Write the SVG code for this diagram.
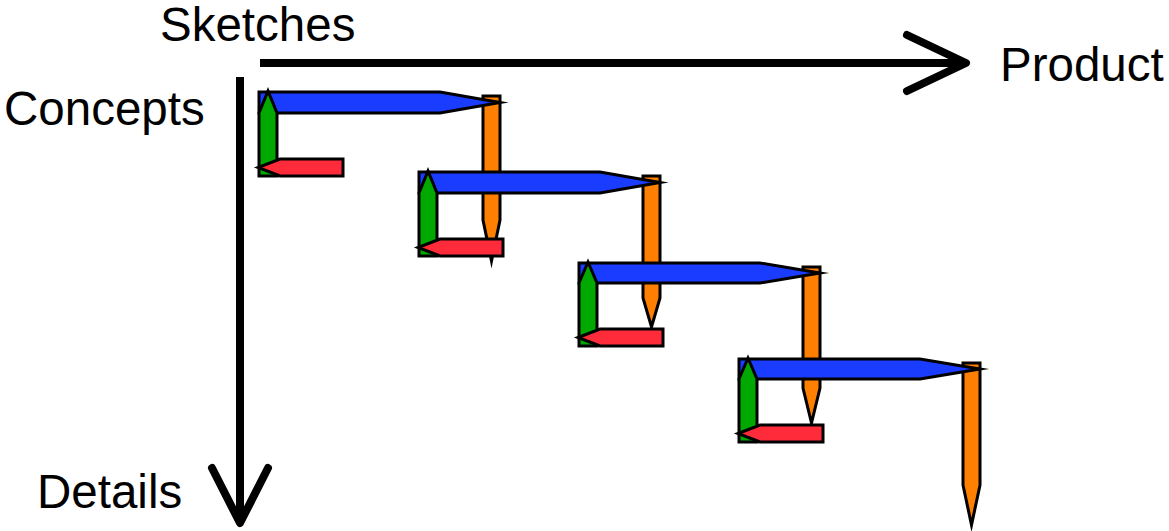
<svg xmlns="http://www.w3.org/2000/svg" width="1169" height="531" viewBox="0 0 1169 531">
<style>
.lbl{font-family:"Liberation Sans",Arial,sans-serif;font-size:47.5px;fill:#000}
.sh{stroke:#000;stroke-width:3;stroke-linejoin:miter;stroke-miterlimit:20}
.blue{fill:#1a3cff}.green{fill:#00a800}.red{fill:#ff2b3b}.orange{fill:#ff8000}
.axis{stroke:#000;stroke-width:8;fill:none;stroke-linecap:round;stroke-linejoin:round}
</style>
<rect width="1169" height="531" fill="#fff"/>
<g id="axes">
<line class="axis" x1="260" y1="63" x2="965" y2="63" style="stroke-linecap:butt"/>
<polyline class="axis" points="907,35 966,63 907,91"/>
<line class="axis" x1="240" y1="77" x2="240" y2="522" style="stroke-linecap:butt"/>
<polyline class="axis" points="212,468 240,523 268,468"/>
</g>
<g id="labels">
<text class="lbl" x="160" y="41">Sketches</text>
<text class="lbl" x="1000" y="81">Product</text>
<text class="lbl" x="4" y="125">Concepts</text>
<text class="lbl" x="37" y="508">Details</text>
</g>
<g id="connectors">
<g id="orange1"><polygon class="sh orange" points="483,96 500,96 500,220 491.5,261 483,220"/></g>
<g id="orange2"><polygon class="sh orange" points="643,176 660,176 660,298 651.5,327 643,298"/></g>
<g id="orange3"><polygon class="sh orange" points="803,267 820,267 820,388 811.5,423 803,388"/></g>
<g id="orange4"><polygon class="sh orange" points="963,363 980,363 980,485 971.5,525 963,485"/></g>
<g id="blue1"><polygon class="sh blue" points="259,92 440,92 500,102.5 440,113 259,113"/></g>
<g id="blue2"><polygon class="sh blue" points="419,172 600,172 660,182.5 600,193 419,193"/></g>
<g id="blue3"><polygon class="sh blue" points="579,263 760,263 820,273 760,283 579,283"/></g>
<g id="blue4"><polygon class="sh blue" points="739,359 920,359 980,369 920,379 739,379"/></g>
<g id="green1"><polygon class="sh green" points="259,176 259,113 268,91 277,113 277,176"/></g>
<g id="green2"><polygon class="sh green" points="419,256 419,193 428,171 437,193 437,256"/></g>
<g id="green3"><polygon class="sh green" points="579,346 579,283 588,262 597,283 597,346"/></g>
<g id="green4"><polygon class="sh green" points="739,442 739,379 748,358 757,379 757,442"/></g>
<g id="red1"><polygon class="sh red" points="343,159 280,159 258,167.5 280,176 343,176"/></g>
<g id="red2"><polygon class="sh red" points="503,239 440,239 418,247.5 440,256 503,256"/></g>
<g id="red3"><polygon class="sh red" points="663,329 600,329 578,337.5 600,346 663,346"/></g>
<g id="red4"><polygon class="sh red" points="823,425 760,425 738,433.5 760,442 823,442"/></g>
</g>
</svg>
